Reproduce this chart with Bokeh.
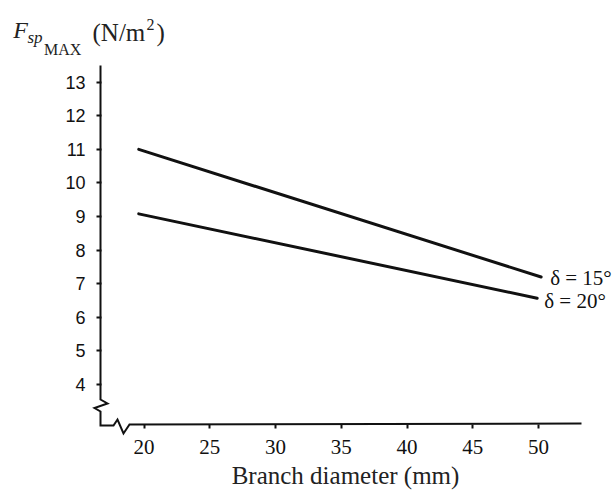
from bokeh.plotting import figure
from bokeh.models import Range1d, Label
from bokeh.embed import file_html
from bokeh.resources import INLINE

# ---- data ----
diameter_ticks = [20, 25, 30, 35, 40, 45, 50]
force_ticks = [4, 5, 6, 7, 8, 9, 10, 11, 12, 13]
series_names = ["δ = 15°", "δ = 20°"]
diameter_15 = [19.6, 50.2]
force_15 = [11.0, 7.2]
diameter_20 = [19.6, 49.9]
force_20 = [9.08, 6.57]
x_title = "Branch diameter (mm)"

W, H = 614, 491
INK = "#111111"

# canvas-pixel -> data helpers (for decorations / annotation placement)
X0_PX, X_PER = 143.5, 13.15   # x pixel of 20 mm, px per mm
Y0_PX, Y_PER = 384.0, 33.59   # y pixel of 4 N/m2, px per unit


def dx(px):
    return 20 + (px - X0_PX) / X_PER


def dy(py):
    return 4 + (Y0_PX - py) / Y_PER


# frame covers the whole canvas
p = figure(width=W, height=H, output_backend="svg", toolbar_location=None,
           x_range=Range1d(dx(0), dx(W)), y_range=Range1d(dy(H), dy(0)),
           min_border_left=0, min_border_right=0, min_border_top=0,
           min_border_bottom=0)
p.outline_line_color = None
p.grid.visible = False
p.background_fill_color = "white"
p.border_fill_color = "white"

# axes (ticks + labels from Bokeh), positioned at the drawn axis lines
p.xaxis.fixed_location = dy(424)
p.yaxis.fixed_location = dx(100)
for ax in (p.xaxis, p.yaxis):
    ax.axis_line_color = None
    ax.minor_tick_line_color = None
    ax.major_tick_line_color = INK
    ax.major_tick_line_width = 2
    ax.major_label_text_color = INK
p.xaxis.ticker = diameter_ticks
p.xaxis.major_tick_out = 4
p.xaxis.major_tick_in = 0
p.xaxis.major_label_text_font = "Liberation Serif"
p.xaxis.major_label_text_font_size = "21px"
p.xaxis.major_label_standoff = 11
p.yaxis.ticker = force_ticks
p.yaxis.major_tick_out = 4
p.yaxis.major_tick_in = 1
p.yaxis.major_label_text_font = "Liberation Sans"
p.yaxis.major_label_text_font_size = "18px"
p.yaxis.major_label_standoff = 11

# broken axis lines with zig-zag breaks
ax_px = [(100, 65), (100, 399), (107, 403), (94, 407.5), (100, 411), (100, 425),
         (113, 425), (117, 419), (123, 433), (129, 424), (581, 423)]
p.line([dx(a) for a, b in ax_px], [dy(b) for a, b in ax_px],
       line_width=2, line_color=INK, line_join="miter")

# data lines
p.line(diameter_15, force_15, line_width=3, line_color=INK, line_cap="round")
p.line(diameter_20, force_20, line_width=3, line_color=INK, line_cap="round")

p.add_layout(Label(x=diameter_15[-1], y=force_15[-1] - 0.7 / Y_PER, x_offset=9,
                   text=series_names[0], text_baseline="middle",
                   text_font="Liberation Serif", text_font_size="21px",
                   text_color=INK))
p.add_layout(Label(x=diameter_20[-1], y=force_20[-1] - 2.7 / Y_PER, x_offset=7,
                   text=series_names[1], text_baseline="middle",
                   text_font="Liberation Serif", text_font_size="21px",
                   text_color=INK))

# x axis title
p.add_layout(Label(x=dx(345), y=dy(475), text=x_title, text_align="center",
                   text_baseline="alphabetic", text_font="Liberation Serif",
                   text_font_size="25px", text_color="#222222"))

# y axis title  F_{sp_{MAX}} (N/m^2)
title_parts = [
    ("F", 12.7, 29.3, "24px", "italic"),
    ("sp", 27.0, 37.3, "17px", "italic"),
    ("MAX", 43.5, 49.3, "16px", "normal"),
    ("(N/m", 92.0, 31.5, "25px", "normal"),
    ("2", 146.0, 24.0, "16px", "normal"),
    (")", 156.0, 31.5, "25px", "normal"),
]
for t, x, y, fs, st in title_parts:
    p.add_layout(Label(x=dx(x), y=dy(y), text=t, text_align="left",
                       text_baseline="alphabetic", text_font="Liberation Serif",
                       text_font_size=fs, text_font_style=st, text_color="#222222"))

open("out.html", "w").write(file_html(p, INLINE))
